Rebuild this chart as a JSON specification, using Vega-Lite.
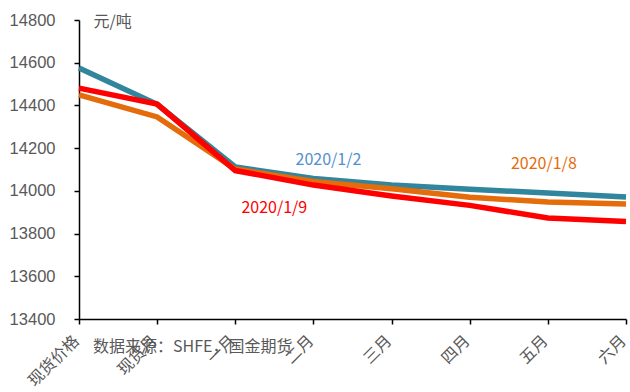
{
  "$schema": "https://vega.github.io/schema/vega-lite/v6.json",
  "autosize": {"type": "none"},
  "width": 547,
  "height": 299,
  "padding": {"left": 79, "top": 20, "right": 4, "bottom": 73},
  "background": "white",
  "config": {
    "view": {"stroke": null},
    "font": "Noto Sans CJK SC"
  },
  "datasets": {
    "prices": [
      {"c": "现货价格", "s": "2020/1/2", "v": 14575},
      {"c": "现货月", "s": "2020/1/2", "v": 14405},
      {"c": "一月", "s": "2020/1/2", "v": 14112},
      {"c": "二月", "s": "2020/1/2", "v": 14058},
      {"c": "三月", "s": "2020/1/2", "v": 14027},
      {"c": "四月", "s": "2020/1/2", "v": 14008},
      {"c": "五月", "s": "2020/1/2", "v": 13990},
      {"c": "六月", "s": "2020/1/2", "v": 13971},
      {"c": "现货价格", "s": "2020/1/8", "v": 14449},
      {"c": "现货月", "s": "2020/1/8", "v": 14346},
      {"c": "一月", "s": "2020/1/8", "v": 14102},
      {"c": "二月", "s": "2020/1/8", "v": 14044},
      {"c": "三月", "s": "2020/1/8", "v": 14010},
      {"c": "四月", "s": "2020/1/8", "v": 13970},
      {"c": "五月", "s": "2020/1/8", "v": 13948},
      {"c": "六月", "s": "2020/1/8", "v": 13938},
      {"c": "现货价格", "s": "2020/1/9", "v": 14481},
      {"c": "现货月", "s": "2020/1/9", "v": 14406},
      {"c": "一月", "s": "2020/1/9", "v": 14095},
      {"c": "二月", "s": "2020/1/9", "v": 14027},
      {"c": "三月", "s": "2020/1/9", "v": 13976},
      {"c": "四月", "s": "2020/1/9", "v": 13932},
      {"c": "五月", "s": "2020/1/9", "v": 13873},
      {"c": "六月", "s": "2020/1/9", "v": 13856}
    ],
    "labels": [
      {"c": "二月", "v": 14143, "t": "2020/1/2", "col": "#5090D0", "off": 15},
      {"c": "五月", "v": 14128, "t": "2020/1/8", "col": "#E46C0A", "off": -4},
      {"c": "一月", "v": 13920, "t": "2020/1/9", "col": "#FF0000", "off": 39}
    ]
  },
  "layer": [
    {
      "data": {"name": "prices"},
      "mark": {"type": "line", "strokeWidth": 5.5, "strokeJoin": "miter"},
      "encoding": {
        "x": {
          "field": "c", "type": "ordinal",
          "sort": ["现货价格", "现货月", "一月", "二月", "三月", "四月", "五月", "六月"],
          "scale": {"type": "point", "padding": 0},
          "axis": {
            "title": null, "labelAngle": -45, "labelFontSize": 16, "labelColor": "#595959",
            "labelFont": "Noto Sans CJK SC", "labelAlign": "right", "labelBaseline": "middle",
            "domainColor": "#000000", "domainWidth": 1.5, "tickColor": "#000000", "tickSize": 5, "tickWidth": 1.5,
            "labelPadding": 14, "labelOffset": -3, "grid": false, "labelBound": false, "labelOverlap": false
          }
        },
        "y": {
          "field": "v", "type": "quantitative",
          "scale": {"domain": [13400, 14800], "nice": false, "zero": false},
          "axis": {
            "values": [13400, 13600, 13800, 14000, 14200, 14400, 14600, 14800],
            "format": "d",
            "grid": false, "labelFontSize": 16.5, "labelColor": "#595959", "labelFont": "Liberation Sans",
            "domainColor": "#000000", "domainWidth": 1.5, "tickColor": "#000000", "tickSize": 5, "tickWidth": 1.5,
            "labelPadding": 19,
            "title": "元/吨", "titleAngle": 0, "titleAlign": "left", "titleBaseline": "top",
            "titleX": 14, "titleY": -7, "titleFontSize": 16, "titleFontWeight": "normal", "titleColor": "#595959",
            "titleFont": "Noto Sans CJK SC"
          }
        },
        "color": {
          "field": "s", "type": "nominal",
          "scale": {"domain": ["2020/1/2", "2020/1/8", "2020/1/9"], "range": ["#31859C", "#E46C0A", "#FF0000"]},
          "legend": null
        },
        "order": {"field": "s"}
      }
    },
    {
      "data": {"name": "labels"},
      "mark": {"type": "text", "fontSize": 16, "align": "center", "baseline": "middle"},
      "encoding": {
        "x": {"field": "c", "type": "ordinal", "sort": ["现货价格", "现货月", "一月", "二月", "三月", "四月", "五月", "六月"]},
        "y": {"field": "v", "type": "quantitative"},
        "xOffset": {"field": "off", "type": "quantitative", "scale": null},
        "text": {"field": "t"},
        "color": {"field": "col", "type": "nominal", "scale": null}
      }
    },
    {
      "data": {"values": [{"c": "现货价格", "v": 13400, "t": "数据来源：SHFE，国金期货"}]},
      "mark": {"type": "text", "fontSize": 16, "align": "left", "baseline": "middle", "dx": 14, "dy": 28, "color": "#595959"},
      "encoding": {
        "x": {"field": "c", "type": "ordinal", "sort": ["现货价格", "现货月", "一月", "二月", "三月", "四月", "五月", "六月"]},
        "y": {"field": "v", "type": "quantitative"},
        "text": {"field": "t"}
      }
    }
  ]
}
